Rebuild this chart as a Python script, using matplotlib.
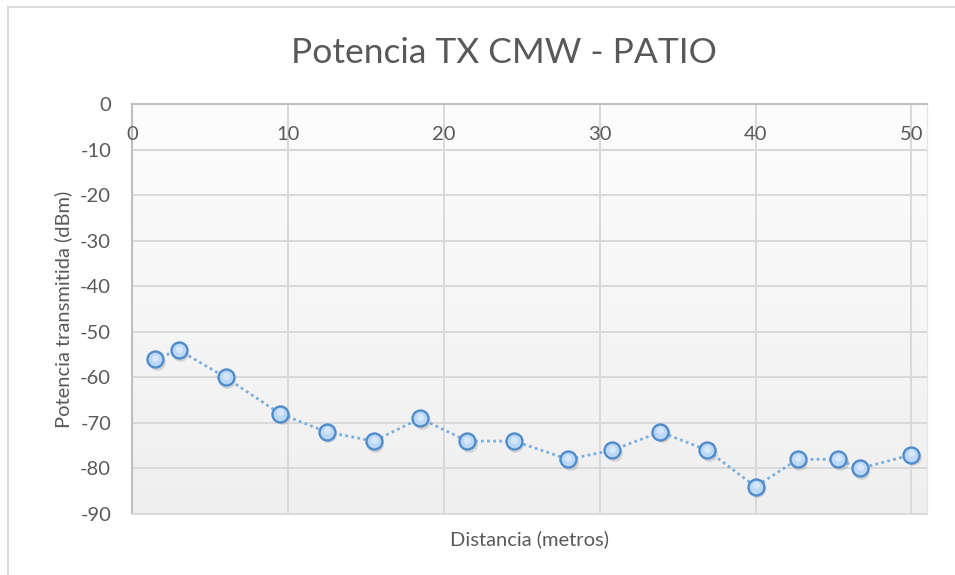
import numpy as np
import matplotlib
matplotlib.use("Agg")
import matplotlib.pyplot as plt
import matplotlib.transforms as mtransforms
from matplotlib.colors import LinearSegmentedColormap
from matplotlib.lines import Line2D

plt.rcParams['font.family'] = ['Lato', 'DejaVu Sans']
plt.rcParams['axes.unicode_minus'] = False

# Measurements: distance (m) vs. transmitted power (dBm)
distancia = [1.5, 3.0, 6.0, 9.5, 12.5, 15.5, 18.5, 21.5, 24.5, 28.0,
             30.8, 33.9, 36.9, 40.0, 42.7, 45.3, 46.7, 50.0]
potencia = [-56, -54, -60, -68, -72, -74, -69, -74, -74, -78,
            -76, -72, -76, -84, -78, -78, -80, -77]

x_ticks = [0, 10, 20, 30, 40, 50]
y_ticks = [0, -10, -20, -30, -40, -50, -60, -70, -80, -90]

titulo = "Potencia TX CMW - PATIO"
etiqueta_x = "Distancia (metros)"
etiqueta_y = "Potencia transmitida (dBm)"

text_color = "#595959"
grid_color = "#D9D9D9"
axis_color = "#BFBFBF"
fs = 14.5

fig = plt.figure(figsize=(9.55, 5.75), dpi=100)
ax = fig.add_axes([0.1382, 0.1061, 0.8325, 0.7130])

x_min, x_max = 0, 51
y_min, y_max = -90, 0
ax.set_xlim(x_min, x_max)
ax.set_ylim(y_min, y_max)

# plot area background: soft vertical gradient
grad_cmap = LinearSegmentedColormap.from_list("bg", ["#FDFDFD", "#EFEFEF"])
grad = np.linspace(0, 1, 256).reshape(-1, 1)
ax.imshow(grad, extent=[x_min, x_max, y_min, y_max], aspect='auto',
          cmap=grad_cmap, origin='upper', zorder=0, interpolation='bilinear')

ax.set_xticks(x_ticks)
ax.set_yticks(y_ticks)
ax.grid(True, color=grid_color, linewidth=1.4, zorder=1)
ax.set_axisbelow(True)
ax.tick_params(axis='both', length=0)
ax.tick_params(axis='y', labelsize=fs, labelcolor=text_color, pad=15)
ax.set_xticklabels([])

# horizontal axis crosses at 0, labels just below it
for xv in x_ticks:
    ax.annotate(str(xv), xy=(xv, y_max), xycoords='data',
                xytext=(0, -16), textcoords='offset points',
                ha='center', va='top', fontsize=fs, color=text_color)

for side in ('top', 'left'):
    ax.spines[side].set_color(axis_color)
    ax.spines[side].set_linewidth(1.5)
ax.spines['bottom'].set_color(grid_color)
ax.spines['bottom'].set_linewidth(1.4)
ax.spines['right'].set_color("#E6E6E6")
ax.spines['right'].set_linewidth(1.0)

# soft drop shadow under markers
shadow = mtransforms.offset_copy(ax.transData, fig=fig, x=1.5, y=-2.5, units='dots')
ax.plot(distancia, potencia, linestyle='none', marker='o', markersize=12,
        markerfacecolor='#9A9A9A', markeredgecolor='none', alpha=0.35,
        transform=shadow, zorder=3)

ax.plot(distancia, potencia, linestyle=(0, (1, 1.2)), linewidth=2.0,
        color='#7AAEE0', zorder=4)
ax.plot(distancia, potencia, linestyle='none', marker='o', markersize=11.5,
        markerfacecolor='#BCD8F6', markeredgecolor='#4F8CCB',
        markeredgewidth=1.7, zorder=5)
# lighter highlight inside markers
ax.plot(distancia, potencia, linestyle='none', marker='o', markersize=5,
        markerfacecolor='#DDEBFB', markeredgecolor='none', alpha=0.8,
        transform=mtransforms.offset_copy(ax.transData, fig=fig, x=0, y=1.5, units='dots'),
        zorder=6)

fig.text(0.528, 0.907, titulo, ha='center', va='center', fontsize=25.5,
         color=text_color)
ax.set_xlabel(etiqueta_x, fontsize=fs, color=text_color, labelpad=8)
ax.set_ylabel(etiqueta_y, fontsize=fs, color=text_color, labelpad=6)

# chart border
fig.add_artist(Line2D([8 / 955, 8 / 955], [0, 1 - 7 / 575], color=grid_color,
                      linewidth=1.3, transform=fig.transFigure))
fig.add_artist(Line2D([8 / 955, 1], [1 - 7 / 575, 1 - 7 / 575], color=grid_color,
                      linewidth=1.3, transform=fig.transFigure))

fig.savefig("out.png", dpi=100)
